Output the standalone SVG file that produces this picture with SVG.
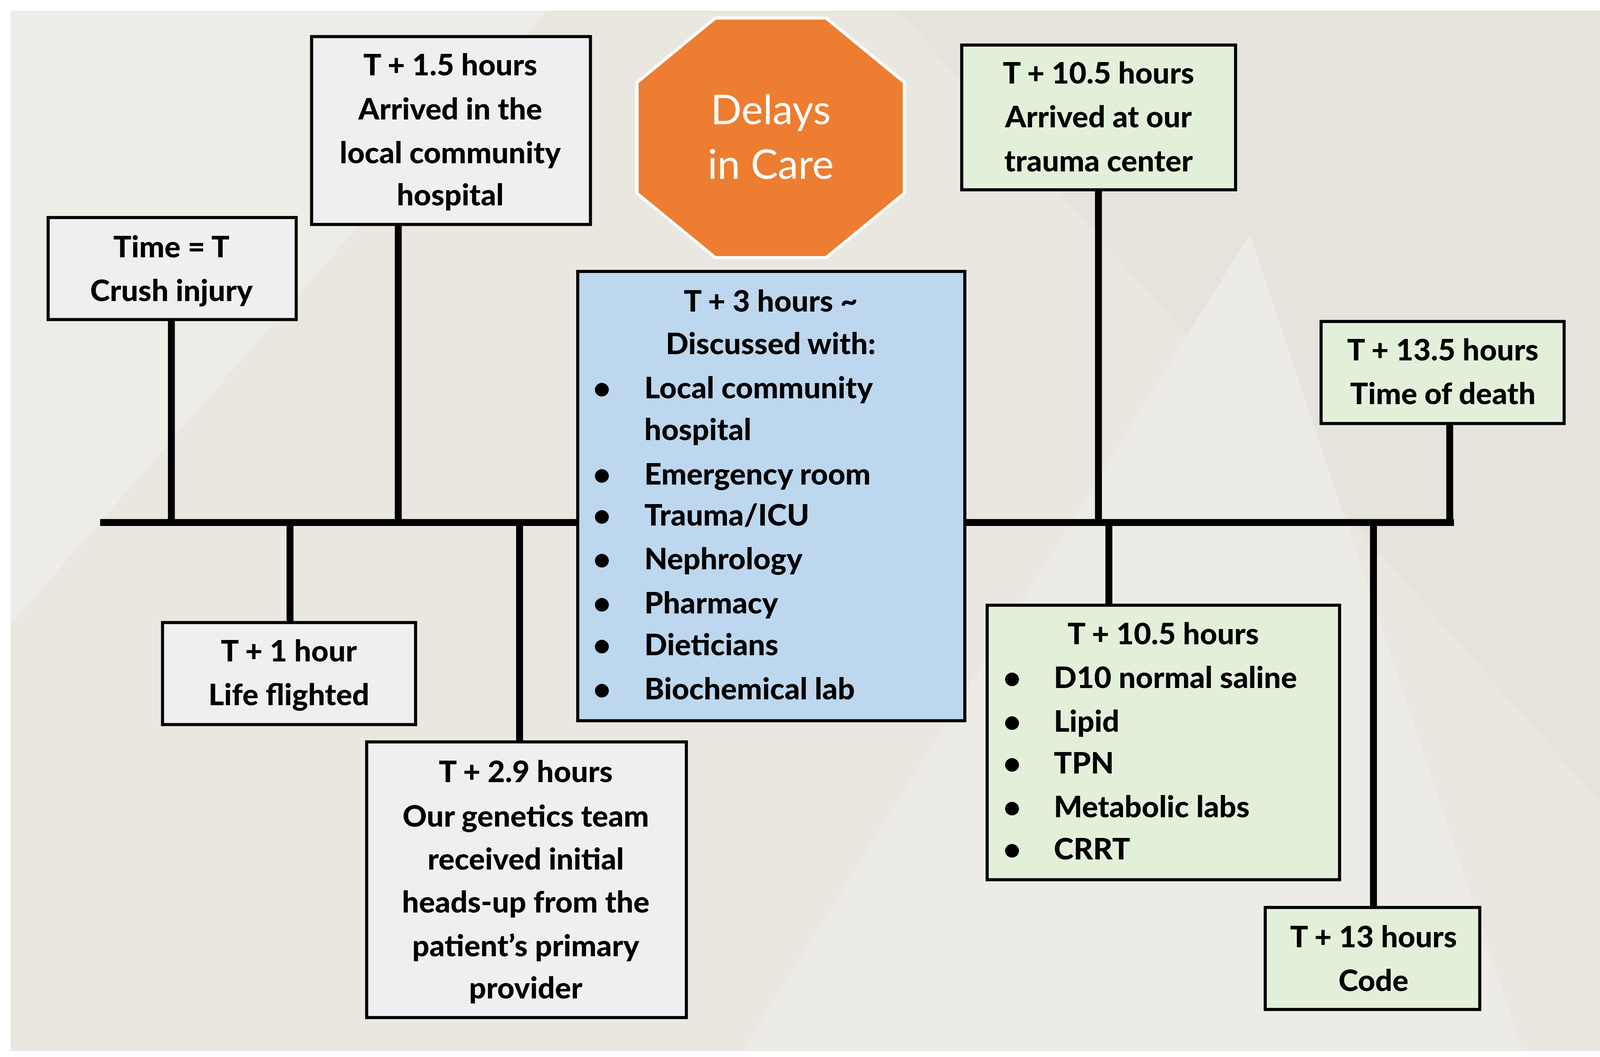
<svg xmlns="http://www.w3.org/2000/svg" width="4157" height="2707" viewBox="0 0 4157 2707">
<defs>
<style>
.box{stroke:#000;stroke-width:8}
.g{fill:#EFEFEF}.gr{fill:#E2F0D9}.bl{fill:#BDD7EE}
text{font-family:Lato,"Open Sans","Liberation Sans",sans-serif;font-weight:900;font-size:78px;fill:#000}
.c{text-anchor:middle}
.ln{stroke:#000;stroke-width:18;fill:none}
</style>
</defs>
<rect width="4157" height="2707" fill="#fff"/>
<rect x="27" y="27" width="4110" height="2665" fill="#EAE7E1"/>
<polygon points="27,27 1400,27 27,1600" fill="#EEECE7"/>
<polygon points="2300,27 4137,27 4137,2100" fill="#E6E3DD"/>
<polygon points="1900,2692 3200,600 3900,2692" fill="#EDEBE6"/>
<g transform="scale(0.986)">
<g id="connectors">
<line class="ln" x1="260" y1="1357" x2="3775" y2="1357"/>
<line class="ln" x1="445" y1="830" x2="445" y2="1357"/>
<line class="ln" x1="1034" y1="583" x2="1034" y2="1357"/>
<line class="ln" x1="2852" y1="493" x2="2852" y2="1357"/>
<line class="ln" x1="3764" y1="1100" x2="3764" y2="1357"/>
<line class="ln" x1="753" y1="1357" x2="753" y2="1617"/>
<line class="ln" x1="1349" y1="1357" x2="1349" y2="1927"/>
<line class="ln" x1="2879" y1="1357" x2="2879" y2="1572"/>
<line class="ln" x1="3566" y1="1357" x2="3566" y2="2357"/>
</g>
<g id="n1"><rect class="box g" x="125" y="565" width="644" height="265"/>
<text class="c" x="445" y="668">Time = T</text><text class="c" x="445" y="782">Crush injury</text></g>
<g id="n2"><rect class="box g" x="809" y="95" width="724" height="488"/>
<text class="c" x="1169" y="196">T + 1.5 hours</text><text class="c" x="1169" y="310">Arrived in the</text><text class="c" x="1169" y="424">local community</text><text class="c" x="1169" y="533">hospital</text></g>
<g id="stop"><polygon points="1857,47 2145,47 2348,214 2348,502 2145,669 1857,669 1654,502 1654,214" fill="#ED7D31" stroke="#fff" stroke-width="8"/>
<text class="c" x="2001" y="323" style="font-size:106px;font-weight:normal;fill:#fff">Delays</text><text class="c" x="2001" y="464" style="font-size:106px;font-weight:normal;fill:#fff">in Care</text></g>
<g id="n3"><rect class="box bl" x="1500" y="705" width="1005" height="1167"/>
<text class="c" x="2001" y="809">T + 3 hours ~</text><text class="c" x="2001" y="920">Discussed with:</text>
<text x="1540" y="1034">•</text><text x="1673" y="1034">Local community</text><text x="1673" y="1143">hospital</text>
<text x="1540" y="1259">•</text><text x="1673" y="1259">Emergency room</text>
<text x="1540" y="1365">•</text><text x="1673" y="1365">Trauma/ICU</text>
<text x="1540" y="1479">•</text><text x="1673" y="1479">Nephrology</text>
<text x="1540" y="1593">•</text><text x="1673" y="1593">Pharmacy</text>
<text x="1540" y="1702">•</text><text x="1673" y="1702">Dieticians</text>
<text x="1540" y="1816">•</text><text x="1673" y="1816">Biochemical lab</text></g>
<g id="n4"><rect class="box gr" x="2497" y="117" width="711" height="376"/>
<text class="c" x="2852" y="217">T + 10.5 hours</text><text class="c" x="2852" y="331">Arrived at our</text><text class="c" x="2852" y="445">trauma center</text></g>
<g id="n5"><rect class="box gr" x="3430" y="835" width="631" height="265"/>
<text class="c" x="3746" y="936">T + 13.5 hours</text><text class="c" x="3746" y="1050">Time of death</text></g>
<g id="n6"><rect class="box g" x="422" y="1617" width="657" height="265"/>
<text class="c" x="750" y="1718">T + 1 hour</text><text class="c" x="750" y="1832">Life flighted</text></g>
<g id="n7"><rect class="box g" x="952" y="1927" width="830" height="716"/>
<text class="c" x="1365" y="2031">T + 2.9 hours</text><text class="c" x="1365" y="2147">Our genetics team</text><text class="c" x="1365" y="2259">received initial</text><text class="c" x="1365" y="2370">heads-up from the</text><text class="c" x="1365" y="2484">patient’s primary</text><text class="c" x="1365" y="2593">provider</text></g>
<g id="n8"><rect class="box gr" x="2563" y="1572" width="915" height="713"/>
<text class="c" x="3020" y="1673">T + 10.5 hours</text>
<text x="2605" y="1787">•</text><text x="2736" y="1787">D10 normal saline</text>
<text x="2605" y="1901">•</text><text x="2736" y="1901">Lipid</text>
<text x="2605" y="2009">•</text><text x="2736" y="2009">TPN</text>
<text x="2605" y="2123">•</text><text x="2736" y="2123">Metabolic labs</text>
<text x="2605" y="2232">•</text><text x="2736" y="2232">CRRT</text></g>
<g id="n9"><rect class="box gr" x="3285" y="2357" width="557" height="265"/>
<text class="c" x="3566" y="2460">T + 13 hours</text><text class="c" x="3566" y="2574">Code</text></g>
</g>
</svg>
